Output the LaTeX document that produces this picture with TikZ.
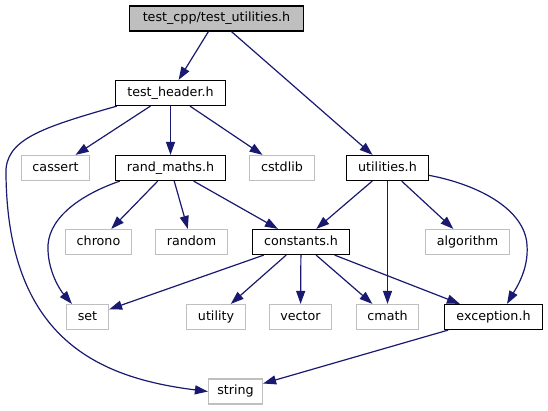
\documentclass[tikz,border=0pt]{standalone}
\usepackage{fontspec}
\setmainfont{DejaVu Sans}
\usetikzlibrary{arrows.meta}
\definecolor{edgeblue}{HTML}{191970}
\definecolor{nodegray}{HTML}{BFBFBF}
\begin{document}
\begin{tikzpicture}[x=1pt,y=-1pt,
  box/.style={draw=black, line width=1.2pt, minimum height=25pt, inner sep=0pt,
    font=\fontsize{12.7}{15}\selectfont, text height=9.4pt, text depth=2.6pt},
  ext/.style={box, draw=nodegray},
  rootbox/.style={box, fill=nodegray},
  edge/.style={draw=edgeblue, line width=1.2pt, -{Triangle[length=13pt,width=9pt]}}]
\useasboundingbox (0,0) rectangle (548,411);

\node[rootbox, minimum width=174pt] (root) at (216.5,18.5) {test\_cpp/test\_utilities.h};
\node[box, minimum width=110pt] (th) at (170.5,93) {test\_header.h};
\node[ext, minimum width=68pt] (cas) at (55.5,168) {cassert};
\node[box, minimum width=110pt] (rm) at (170.5,168) {rand\_maths.h};
\node[ext, minimum width=65pt] (cst) at (282,168) {cstdlib};
\node[box, minimum width=82pt] (ut) at (387.5,168) {utilities.h};
\node[ext, minimum width=66pt] (chr) at (98.5,242) {chrono};
\node[ext, minimum width=72pt] (rnd) at (191.5,242) {random};
\node[box, minimum width=97pt] (con) at (301,242) {constants.h};
\node[ext, minimum width=84pt] (alg) at (467.5,242) {algorithm};
\node[ext, minimum width=42pt] (set) at (87.5,317) {set};
\node[ext, minimum width=59pt] (uty) at (216,317) {utility};
\node[ext, minimum width=62pt] (vec) at (300.5,317) {vector};
\node[ext, minimum width=62pt] (cm) at (387.5,317) {cmath};
\node[box, minimum width=98pt] (exc) at (493.5,317) {exception.h};
\node[ext, minimum width=54pt] (str) at (235.5,391.5) {string};

\draw[edge] (root) -- (th);
\draw[edge] (root) -- (ut);
\draw[edge] (th) -- (cas);
\draw[edge] (th) -- (rm);
\draw[edge] (th) -- (cst);
\draw[edge] ([xshift=2pt]th.south west) .. controls (40,128) and (4,140) .. (6,175)
  .. controls (8,340) and (100,378) .. (str.west);
\draw[edge] (rm) -- (chr);
\draw[edge] (rm) -- (rnd);
\draw[edge] (rm) -- (con);
\draw[edge] ([xshift=5pt]rm.south west) .. controls (85,193) and (50,215) .. (48,245)
  .. controls (47,270) and (60,290) .. ([xshift=6pt]set.north west);
\draw[edge] (ut) -- (con);
\draw[edge] (ut) -- (cm);
\draw[edge] (ut) -- (alg);
\draw[edge] (ut.-10) .. controls (480,185) and (525,210) .. (527,245)
  .. controls (529,270) and (515,290) .. ([xshift=13.5pt]exc.north);
\draw[edge] (con) -- (set);
\draw[edge] (con) -- (uty);
\draw[edge] (con) -- (vec);
\draw[edge] (con) -- (cm);
\draw[edge] (con) -- (exc);
\draw[edge] (exc) -- (str);
\end{tikzpicture}
\end{document}
